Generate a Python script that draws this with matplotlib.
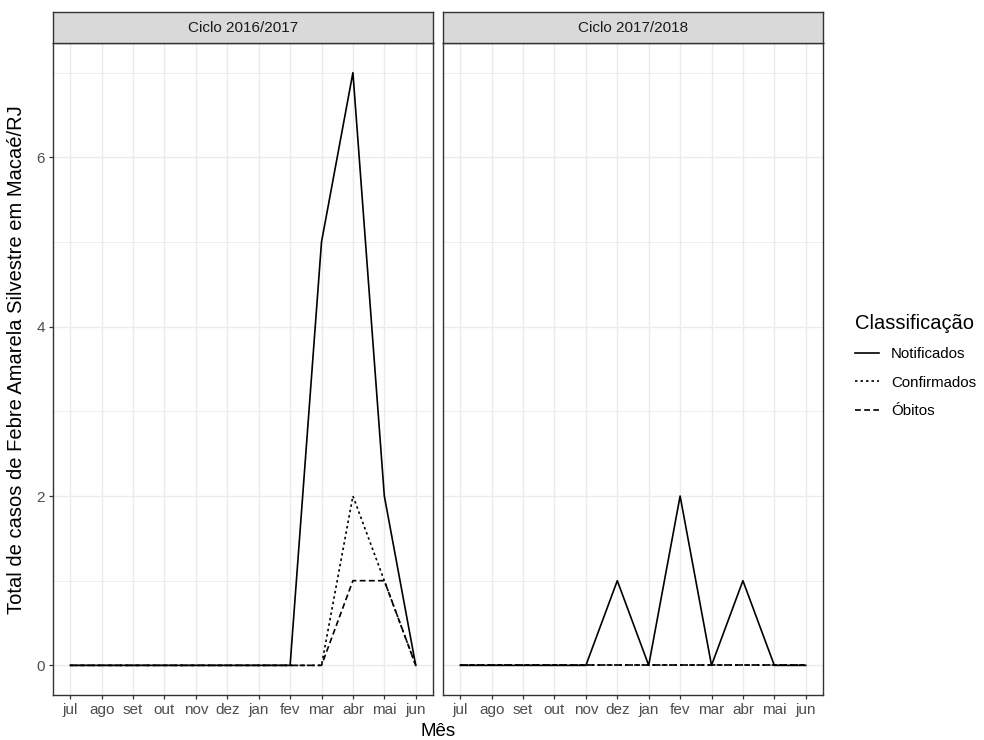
import numpy as np
import matplotlib.pyplot as plt
from matplotlib.lines import Line2D

plt.rcParams['font.family'] = ['Liberation Sans', 'DejaVu Sans']

meses = ['jul', 'ago', 'set', 'out', 'nov', 'dez', 'jan', 'fev', 'mar', 'abr', 'mai', 'jun']
ciclos = ['Ciclo 2016/2017', 'Ciclo 2017/2018']
classes = ['Notificados', 'Confirmados', 'Óbitos']

# casos por mes, um array por classificacao e ciclo
notif_1617 = [0, 0, 0, 0, 0, 0, 0, 0, 5, 7, 2, 0]
conf_1617 = [0, 0, 0, 0, 0, 0, 0, 0, 0, 2, 1, 0]
obit_1617 = [0, 0, 0, 0, 0, 0, 0, 0, 0, 1, 1, 0]
notif_1718 = [0, 0, 0, 0, 0, 1, 0, 2, 0, 1, 0, 0]
conf_1718 = [0, 0, 0, 0, 0, 0, 0, 0, 0, 0, 0, 0]
obit_1718 = [0, 0, 0, 0, 0, 0, 0, 0, 0, 0, 0, 0]

dados = {
    ciclos[0]: [notif_1617, conf_1617, obit_1617],
    ciclos[1]: [notif_1718, conf_1718, obit_1718],
}
estilos = ['-', (0, (1.5, 1.8)), (0, (3.5, 2))]
lw = 1.2

W, H = 984, 740
fig = plt.figure(figsize=(W / 100, H / 100), dpi=100)

grey20 = '#333333'
grid_col = '#EBEBEB'
x = np.arange(1, len(meses) + 1)

lefts = [53, 443]
pw = 380
top, bottom = 43, 695
strip_h = 31

for i, ciclo in enumerate(ciclos):
    ax = fig.add_axes([lefts[i] / W, 1 - bottom / H, pw / W, (bottom - top) / H])
    for serie, ls in zip(dados[ciclo], estilos):
        ax.plot(x, serie, color='black', lw=lw, linestyle=ls, zorder=3)
    ax.set_xlim(0.45, 12.55)
    ax.set_ylim(-0.35, 7.35)
    ax.set_xticks(x)
    ax.set_xticklabels(meses)
    ax.set_yticks([0, 2, 4, 6])
    ax.set_yticks([1, 3, 5, 7], minor=True)
    ax.grid(True, which='major', color=grid_col, lw=1.0, zorder=0)
    ax.grid(True, which='minor', axis='y', color=grid_col, lw=0.6, zorder=0)
    ax.set_axisbelow(True)
    for sp in ax.spines.values():
        sp.set_color(grey20)
        sp.set_linewidth(1.0)
    ax.tick_params(axis='both', which='major', length=3, width=0.9, color=grey20,
                   labelsize=11, labelcolor='#4D4D4D', pad=3)
    ax.tick_params(axis='y', which='minor', length=0)
    if i > 0:
        ax.tick_params(axis='y', which='both', left=False, labelleft=False)

    # faixa do titulo do painel
    sax = fig.add_axes([lefts[i] / W, 1 - top / H, pw / W, strip_h / H])
    sax.set_facecolor('#D9D9D9')
    sax.set_xticks([])
    sax.set_yticks([])
    for sp in sax.spines.values():
        sp.set_color(grey20)
        sp.set_linewidth(1.0)
    sax.text(0.5, 0.5, ciclo, ha='center', va='center', fontsize=11,
             color='#1A1A1A', transform=sax.transAxes)

fig.text((lefts[0] + lefts[1] + pw) / 2 / W, 1 - 732 / H, 'Mês', ha='center',
         va='center', fontsize=13.5)
fig.text(17 / W, 1 - 360 / H,
         'Total de casos de Febre Amarela Silvestre em Macaé/RJ',
         rotation=90, ha='center', va='center', fontsize=14.5)

handles = [Line2D([], [], color='black', lw=lw, linestyle=ls) for ls in estilos]
leg = fig.legend(handles, classes, title='Classificação', loc='center left',
                 bbox_to_anchor=(843 / W, 1 - 366 / H), frameon=False,
                 fontsize=10.8, title_fontsize=14.5, handlelength=1.6,
                 handletextpad=0.8, labelspacing=0.95, alignment='left',
                 borderpad=0.3)

fig.savefig('out.png', dpi=100)
